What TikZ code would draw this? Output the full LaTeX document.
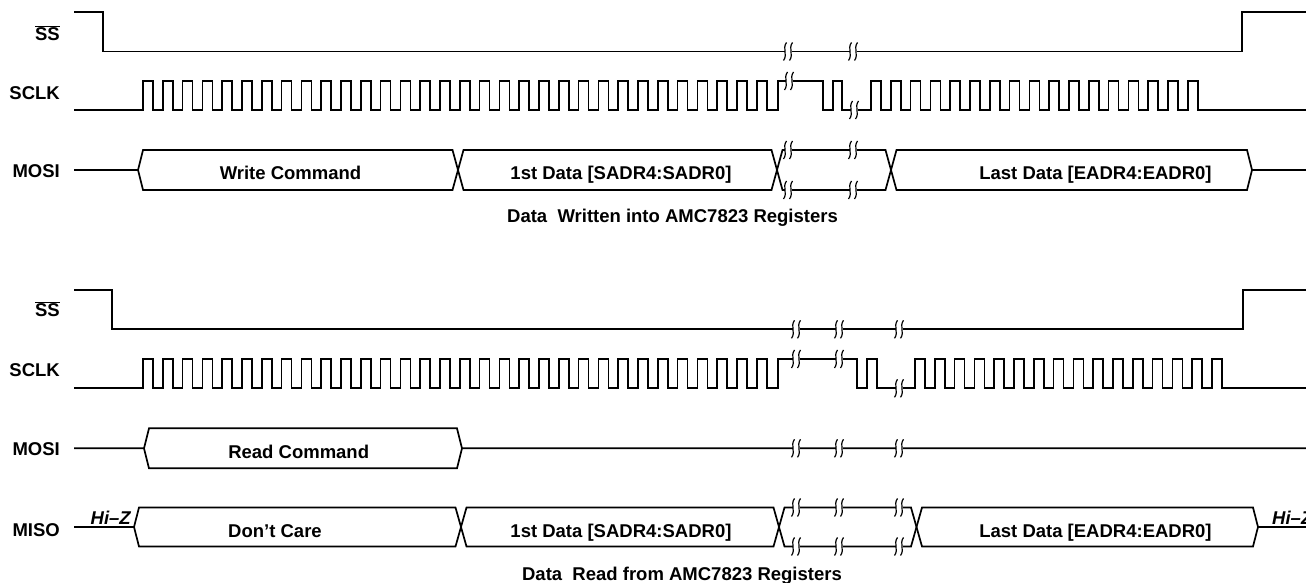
\documentclass[tikz,border=0pt]{standalone}
\usepackage{fontspec}
\setmainfont{Liberation Sans}
\newcommand\brkat[2]{%
  \fill[white] ({#1-3.5},{#2-2}) rectangle ({#1+3.5},{#2+2});
  \draw[brkmark] ({#1-1.5},{#2-9}) .. controls ({#1-6},{#2-3}) and ({#1},{#2+3}) .. ({#1-4.5},{#2+9});
  \draw[brkmark] ({#1+4.5},{#2-9}) .. controls ({#1},{#2-3}) and ({#1+6},{#2+3}) .. ({#1+1.5},{#2+9});
}
\begin{document}
\begin{tikzpicture}[x=1pt,y=-1pt,
  sig/.style={line width=1.7pt, line join=miter},
  brkmark/.style={line width=1.2pt},
  lbl/.style={font=\fontsize{18.5}{21}\selectfont\bfseries, inner sep=0pt},
  hiz/.style={font=\fontsize{18.5}{21}\selectfont\bfseries\itshape, inner sep=0pt}]
\useasboundingbox (0,0) rectangle (1306,583);

% ---------------- top: write ----------------
% SS
\draw[sig] (74,12) -- (103,12) -- (103,51.5) -- (1242,51.5) -- (1242,12) -- (1306,12);
\brkat{788}{51.5}\brkat{853}{51.5}
% SCLK
\draw[sig] (74,110) -- (143,110)
  foreach \k in {0,...,31} { -- ({143+19.8*\k},110) -- ({143+19.8*\k},81) -- ({153+19.8*\k},81) -- ({153+19.8*\k},110) }
  -- (778,110) -- (778,81) -- (823,81) -- (823,110) -- (833,110) -- (833,81) -- (842,81) -- (842,110) -- (871,110)
  foreach \k in {0,...,16} { -- ({871+19.8*\k},110) -- ({871+19.8*\k},81) -- ({881+19.8*\k},81) -- ({881+19.8*\k},110) }
  -- (1306,110);
\brkat{789}{81}\brkat{854}{110}
% MOSI
\draw[sig] (74,170) -- (138,170) -- (143,150) -- (452.5,150) -- (463.5,190) -- (771.5,190) -- (782.5,150) -- (885.5,150) -- (896.5,190) -- (1247,190) -- (1252,170) -- (1306,170);
\draw[sig] (138,170) -- (143,190) -- (452.5,190) -- (463.5,150) -- (771.5,150) -- (782.5,190) -- (885.5,190) -- (896.5,150) -- (1247,150) -- (1252,170);
\brkat{788}{150}\brkat{788}{190}\brkat{853}{150}\brkat{853}{190}

\node[lbl, anchor=base east] (ss1) at (60,41) {$\overline{\mbox{SS}}$};
\node[lbl, anchor=base east] (sclk1) at (60,100) {SCLK};
\node[lbl, anchor=base east] (mosi1) at (60,177.5) {MOSI};
\node[lbl, anchor=base] (wc) at (290.5,179) {Write Command};
\node[lbl, anchor=base] (d1) at (621,179) {1st Data [SADR4:SADR0]};
\node[lbl, anchor=base] (ld1) at (1095.5,179) {Last Data [EADR4:EADR0]};
\node[lbl, anchor=base] (cap1) at (672.5,222) {Data\ \ Written into AMC7823 Registers};

% ---------------- bottom: read ----------------
% SS
\draw[sig] (74,290) -- (112,290) -- (112,329.3) -- (1243,329.3) -- (1243,290) -- (1306,290);
\brkat{796}{329.3}\brkat{839}{329.3}\brkat{899}{329.3}
% SCLK
\draw[sig] (74,388.3) -- (143,388.3)
  foreach \k in {0,...,31} { -- ({143+19.8*\k},388.3) -- ({143+19.8*\k},359) -- ({153+19.8*\k},359) -- ({153+19.8*\k},388.3) }
  -- (778,388.3) -- (778,359) -- (857,359) -- (857,388.3) -- (867,388.3) -- (867,359) -- (877,359) -- (877,388.3) -- (915,388.3)
  foreach \k in {0,...,15} { -- ({915+19.8*\k},388.3) -- ({915+19.8*\k},359) -- ({925+19.8*\k},359) -- ({925+19.8*\k},388.3) }
  -- (1306,388.3);
\brkat{796}{359}\brkat{839}{359}\brkat{899}{388.3}
% MOSI
\draw[sig] (74,448.3) -- (144,448.3) -- (149,428.3) -- (457,428.3) -- (462,448.3) -- (1306,448.3);
\draw[sig] (144,448.3) -- (149,468.3) -- (457,468.3) -- (462,448.3);
\brkat{796}{448.3}\brkat{839}{448.3}\brkat{899}{448.3}
% MISO
\draw[sig] (74,527) -- (134,527) -- (139,507.5) -- (455.5,507.5) -- (466.5,546.5) -- (773.5,546.5) -- (784.5,507.5) -- (911,507.5) -- (922,546.5) -- (1253,546.5) -- (1258,527) -- (1306,527);
\draw[sig] (134,527) -- (139,546.5) -- (455.5,546.5) -- (466.5,507.5) -- (773.5,507.5) -- (784.5,546.5) -- (911,546.5) -- (922,507.5) -- (1253,507.5) -- (1258,527);
\brkat{796}{507.5}\brkat{839}{507.5}\brkat{899}{507.5}
\brkat{796}{546.5}\brkat{839}{546.5}\brkat{899}{546.5}

\node[lbl, anchor=base east] (ss2) at (60,316.7) {$\overline{\mbox{SS}}$};
\node[lbl, anchor=base east] (sclk2) at (60,376) {SCLK};
\node[lbl, anchor=base east] (mosi2) at (60,455) {MOSI};
\node[lbl, anchor=base east] (miso) at (60,536) {MISO};
\node[lbl, anchor=base] (rc) at (298.7,458) {Read Command};
\node[lbl, anchor=base] (dc) at (275,537.5) {Don’t Care};
\node[lbl, anchor=base] (d2) at (621,537.5) {1st Data [SADR4:SADR0]};
\node[lbl, anchor=base] (ld2) at (1095.5,537.5) {Last Data [EADR4:EADR0]};
\node[hiz, anchor=base west] (hiz1) at (90.5,524.5) {Hi–Z};
\node[hiz, anchor=base west] (hiz2) at (1272,524.5) {Hi–Z};
\node[lbl, anchor=base] (cap2) at (682,580) {Data\ \ Read from AMC7823 Registers};
\end{tikzpicture}
\end{document}
